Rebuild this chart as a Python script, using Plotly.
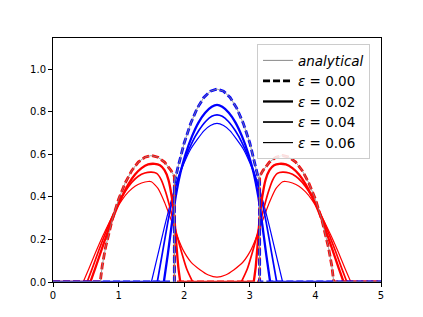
import plotly.graph_objects as go

# ---------------- data ----------------
# analytical / eps = 0.00 profiles
red_exact_x = [0, 0.72, 0.75, 0.8, 0.9, 1.0, 1.1, 1.2, 1.3, 1.4, 1.5, 1.6, 1.7, 1.8, 1.85, 1.85,
               3.15, 3.15, 3.2, 3.3, 3.4, 3.5, 3.6, 3.7, 3.8, 3.9, 4.0, 4.1, 4.2, 4.25, 4.28, 5]
red_exact_y = [0, 0, 0.075, 0.161, 0.290, 0.389, 0.465, 0.523, 0.563, 0.586, 0.594, 0.586, 0.563, 0.523, 0.496, 0,
               0, 0.496, 0.523, 0.563, 0.586, 0.594, 0.586, 0.563, 0.523, 0.465, 0.389, 0.290, 0.161, 0.075, 0, 0]
blue_exact_x = [0, 1.85, 1.85, 1.9, 2.0, 2.1, 2.2, 2.3, 2.4, 2.5, 2.6, 2.7, 2.8, 2.9, 3.0, 3.1, 3.15, 3.15, 5]
blue_exact_y = [0, 0, 0.462, 0.533, 0.653, 0.746, 0.817, 0.867, 0.896, 0.906, 0.896, 0.867, 0.817, 0.746,
                0.653, 0.533, 0.462, 0, 0]

# eps = 0.02
red_02_x = [0, 0.57, 0.65, 0.75, 0.85, 0.95, 1.05, 1.15, 1.25, 1.35, 1.45, 1.55, 1.63, 1.70, 1.76, 1.81, 1.85,
            1.88, 1.91, 1.94, 3.06, 3.09, 3.12, 3.15, 3.19, 3.24, 3.30, 3.37, 3.45, 3.55, 3.65, 3.75, 3.85,
            3.95, 4.05, 4.15, 4.25, 4.35, 4.43, 5]
red_02_y = [0, 0, 0.07, 0.16, 0.25, 0.33, 0.40, 0.46, 0.505, 0.535, 0.552, 0.555, 0.548, 0.525, 0.48, 0.40,
            0.30, 0.18, 0.07, 0, 0, 0.07, 0.18, 0.30, 0.40, 0.48, 0.525, 0.548, 0.555, 0.552, 0.535, 0.505,
            0.46, 0.40, 0.33, 0.25, 0.16, 0.07, 0, 0]
blue_02_x = [0, 1.69, 1.75, 1.81, 1.87, 1.94, 2.02, 2.12, 2.22, 2.32, 2.42, 2.5,
             2.58, 2.68, 2.78, 2.88, 2.98, 3.06, 3.13, 3.19, 3.25, 3.31, 5]
blue_02_y = [0, 0, 0.13, 0.27, 0.40, 0.51, 0.60, 0.685, 0.75, 0.795, 0.823, 0.832,
             0.823, 0.795, 0.75, 0.685, 0.60, 0.51, 0.40, 0.27, 0.13, 0, 0]

# eps = 0.04
red_04_x = [0, 0.52, 0.6, 0.7, 0.8, 0.9, 1.0, 1.1, 1.2, 1.3, 1.4, 1.5, 1.58, 1.65, 1.72, 1.8, 1.88, 1.96,
            2.04, 2.13, 2.87, 2.96, 3.04, 3.12, 3.2, 3.28, 3.35, 3.42, 3.5, 3.6, 3.7, 3.8, 3.9, 4.0, 4.1,
            4.2, 4.3, 4.4, 4.48, 5]
red_04_y = [0, 0, 0.065, 0.15, 0.23, 0.305, 0.37, 0.425, 0.468, 0.497, 0.512, 0.516, 0.51, 0.48, 0.42,
            0.33, 0.23, 0.14, 0.06, 0, 0, 0.06, 0.14, 0.23, 0.33, 0.42, 0.48, 0.51, 0.516, 0.512, 0.497,
            0.468, 0.425, 0.37, 0.305, 0.23, 0.15, 0.065, 0, 0]
blue_04_x = [0, 1.59, 1.67, 1.75, 1.83, 1.92, 2.02, 2.12, 2.22, 2.33, 2.42, 2.5,
             2.58, 2.67, 2.78, 2.88, 2.98, 3.08, 3.17, 3.25, 3.33, 3.41, 5]
blue_04_y = [0, 0, 0.14, 0.28, 0.40, 0.50, 0.585, 0.655, 0.71, 0.755, 0.778, 0.785,
             0.778, 0.755, 0.71, 0.655, 0.585, 0.50, 0.40, 0.28, 0.14, 0, 0]

# eps = 0.06
red_06_x = [0, 0.46, 0.55, 0.65, 0.75, 0.85, 0.95, 1.05, 1.15, 1.25, 1.35, 1.45, 1.5, 1.6, 1.7, 1.78,
            1.88, 1.98, 2.1, 2.24, 2.37, 2.5, 2.63, 2.76, 2.9, 3.02, 3.12, 3.22, 3.3, 3.4, 3.5, 3.55,
            3.65, 3.75, 3.85, 3.95, 4.05, 4.15, 4.25, 4.35, 4.45, 4.54, 5]
red_06_y = [0, 0, 0.065, 0.14, 0.21, 0.275, 0.335, 0.385, 0.423, 0.45, 0.465, 0.472, 0.471, 0.44, 0.375,
            0.31, 0.225, 0.152, 0.095, 0.058, 0.033, 0.023, 0.033, 0.058, 0.095, 0.152, 0.225, 0.31,
            0.375, 0.44, 0.471, 0.472, 0.465, 0.45, 0.423, 0.385, 0.335, 0.275, 0.21, 0.14, 0.065, 0, 0]
blue_06_x = [0, 1.50, 1.60, 1.70, 1.80, 1.90, 2.0, 2.1, 2.2, 2.3, 2.4, 2.5,
             2.6, 2.7, 2.8, 2.9, 3.0, 3.1, 3.2, 3.3, 3.4, 3.50, 5]
blue_06_y = [0, 0, 0.13, 0.26, 0.38, 0.48, 0.56, 0.625, 0.67, 0.71, 0.735, 0.745,
             0.735, 0.71, 0.67, 0.625, 0.56, 0.48, 0.38, 0.26, 0.13, 0, 0]

eps_labels = ["0.00", "0.02", "0.04", "0.06"]
y_ticks = [0.0, 0.2, 0.4, 0.6, 0.8, 1.0]
x_ticks = [0, 1, 2, 3, 4, 5]

RED = "#ff0000"
BLUE = "#0000ff"

fig = go.Figure()


def segments(x, y):
    """Split a series into flat zero runs (drawn straight) and humps (drawn smooth)."""
    segs = []
    cur_x, cur_y = [x[0]], [y[0]]
    cur_flat = None
    for i in range(1, len(x)):
        flat = (y[i - 1] == 0 and y[i] == 0)
        if cur_flat is None or flat == cur_flat:
            cur_x.append(x[i]); cur_y.append(y[i]); cur_flat = flat
        else:
            segs.append((cur_flat, cur_x, cur_y))
            cur_x, cur_y = [x[i - 1], x[i]], [y[i - 1], y[i]]
            cur_flat = flat
    segs.append((cur_flat, cur_x, cur_y))
    return segs


def add_smooth(x, y, color, width):
    for flat, sx, sy in segments(x, y):
        fig.add_trace(go.Scatter(x=sx, y=sy, mode="lines", showlegend=False, hoverinfo="skip",
                                 line=dict(color=color, width=width,
                                           shape="linear" if flat else "spline",
                                           smoothing=None if flat else 0.6)))


def add_linear(x, y, color, width, dash="solid", opacity=1.0):
    fig.add_trace(go.Scatter(x=x, y=y, mode="lines", showlegend=False, hoverinfo="skip",
                             opacity=opacity, line=dict(color=color, width=width, dash=dash)))


# eps curves (thinnest first)
add_smooth(red_06_x, red_06_y, RED, 1.2)
add_smooth(blue_06_x, blue_06_y, BLUE, 1.2)
add_smooth(red_04_x, red_04_y, RED, 1.7)
add_smooth(blue_04_x, blue_04_y, BLUE, 1.7)
add_smooth(red_02_x, red_02_y, RED, 2.3)
add_smooth(blue_02_x, blue_02_y, BLUE, 2.3)
add_linear(red_exact_x, red_exact_y, RED, 2.8, dash="7px,3px")
add_linear(blue_exact_x, blue_exact_y, BLUE, 2.8, dash="7px,3px")
# analytical overlay
add_linear(red_exact_x, red_exact_y, "#888888", 1.0, opacity=0.8)
add_linear(blue_exact_x, blue_exact_y, "#888888", 1.0, opacity=0.8)

# legend entries
leg = [("<i>analytical</i>", "#888888", 1.0, "solid"),
       ("<i>ε</i> = " + eps_labels[0], "black", 2.8, "7px,3px"),
       ("<i>ε</i> = " + eps_labels[1], "black", 2.3, "solid"),
       ("<i>ε</i> = " + eps_labels[2], "black", 1.7, "solid"),
       ("<i>ε</i> = " + eps_labels[3], "black", 1.2, "solid")]
for name, c, w, d in leg:
    fig.add_trace(go.Scatter(x=[None], y=[None], mode="lines", name=name,
                             line=dict(color=c, width=w, dash=d)))

axis_common = dict(showline=True, linecolor="black", linewidth=1, mirror=True, ticks="outside",
                   ticklen=4, tickwidth=1, tickcolor="black", showgrid=False, zeroline=False,
                   automargin=False,
                   tickfont=dict(family="DejaVu Sans", size=10, color="black"))

# page body has an 8px margin, so the figure is sized/offset to compensate
fig.update_layout(
    template="none",
    width=407, height=301, autosize=False,
    margin=dict(l=45, r=34, t=30, b=27),
    paper_bgcolor="white", plot_bgcolor="white",
    xaxis=dict(range=[0, 5], tickvals=x_ticks, ticktext=[str(v) for v in x_ticks], **axis_common),
    yaxis=dict(range=[0, 1.146], tickvals=y_ticks, ticktext=[f"{v:.1f}" for v in y_ticks], **axis_common),
    legend=dict(x=0.622, y=0.975, xanchor="left", yanchor="top",
                bgcolor="rgba(255,255,255,0.85)", bordercolor="#cccccc", borderwidth=1,
                font=dict(family="DejaVu Sans", size=13.5, color="black"),
                itemwidth=30),
    showlegend=True,
)

fig.write_html("out.html")
